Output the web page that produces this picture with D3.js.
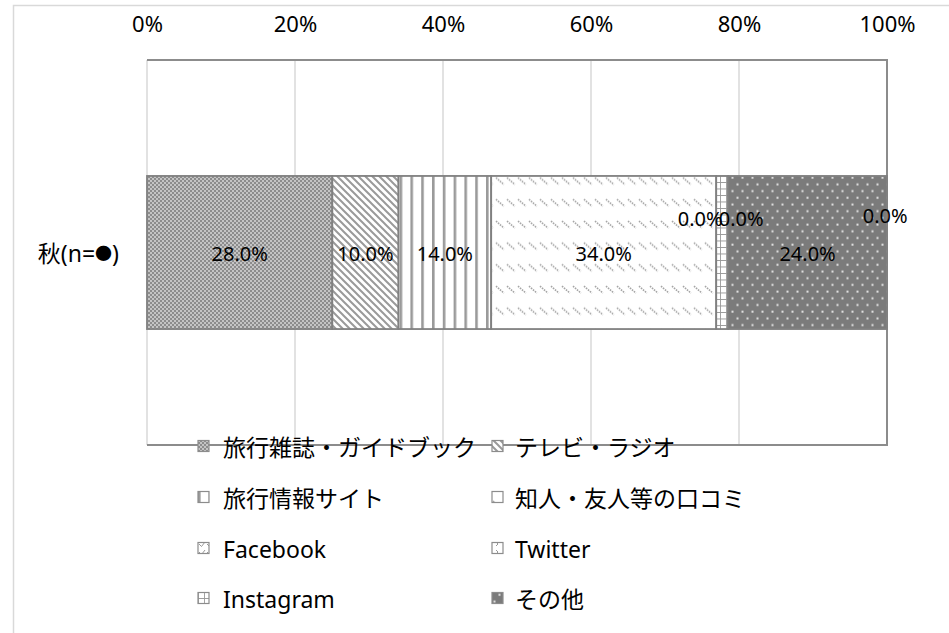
<!DOCTYPE html>
<html>
<head>
<meta charset="utf-8">
<script src="https://cdn.jsdelivr.net/npm/d3@7"></script>
<style>
  body { margin: 0; background: #fff; }
  text { font-family: "Noto Sans", "Noto Sans CJK JP", sans-serif; fill: #000; }
</style>
</head>
<body>
<svg id="svg"></svg>
<script>
// Chart data
const seasons = ["秋(n=●)"];
const sources = ["旅行雑誌・ガイドブック", "テレビ・ラジオ", "旅行情報サイト", "知人・友人等の口コミ",
    "Facebook", "Twitter", "Instagram", "その他"];
const shares = [28, 10, 14, 34, 0, 0, 1.8, 24];
const shownLabels = ["28.0%", "10.0%", "14.0%", "34.0%", "0.0%", "0.0%", "0.0%", "24.0%"];
const tickValues = [0, 0.2, 0.4, 0.6, 0.8, 1];

const width = 949;
const height = 633;
const margin = { top: 60, right: 63, bottom: 188, left: 147 };

let svg = d3.select("#svg").attr("width", width).attr("height", height);

// outer chart border
svg.append("rect")
    .attr("x", 13.5).attr("y", 5.5)
    .attr("width", 960).attr("height", 660)
    .attr("fill", "none").attr("stroke", "#d9d9d9").attr("stroke-width", 1.5);

// patterns, one per series
const defs = svg.append("defs");
function pattern(id, w, h, bg) {
    let p = defs.append("pattern").attr("id", id)
        .attr("patternUnits", "userSpaceOnUse")
        .attr("width", w).attr("height", h);
    p.append("rect").attr("width", w).attr("height", h).attr("fill", bg);
    return p;
}
let p0 = pattern("pat0", 4, 4, "#c4c4c4");
p0.append("rect").attr("width", 2).attr("height", 2).attr("fill", "#8c8c8c");
p0.append("rect").attr("x", 2).attr("y", 2).attr("width", 2).attr("height", 2).attr("fill", "#8c8c8c");

let p1 = pattern("pat1", 7, 7, "#fff");
p1.append("path").attr("d", "M-1,-1 L8,8 M-4.5,2.5 L2.5,9.5 M2.5,-4.5 L9.5,2.5")
    .attr("stroke", "#9a9a9a").attr("stroke-width", 2);

let p2 = pattern("pat2", 10.8, 10, "#fff");
p2.append("rect").attr("x", 0).attr("width", 2.6).attr("height", 10).attr("fill", "#9a9a9a");

let p3 = pattern("pat3", 11, 21.7, "#fff");
p3.append("path").attr("d", "M1,4 L9,11")
    .attr("stroke", "#a3a3a3").attr("stroke-width", 1.6).attr("stroke-dasharray", "1.6,1");

let p4 = pattern("pat4", 8, 8, "#fff");
p4.append("path").attr("d", "M1,4 L3.5,6.5 L7,2").attr("fill", "none")
    .attr("stroke", "#999").attr("stroke-width", 1);

let p5 = pattern("pat5", 8, 8, "#fff");
p5.append("path").attr("d", "M4,2 L6,4 L4,6").attr("fill", "none")
    .attr("stroke", "#999").attr("stroke-width", 1);

let p6 = pattern("pat6", 6, 6.5, "#fff");
p6.append("path").attr("d", "M0,0 H6 M0,0 V6.5").attr("stroke", "#999").attr("stroke-width", 1.8);

let p7 = pattern("pat7", 10, 13.4, "#7b7b7b");
p7.append("rect").attr("x", 1.5).attr("y", 2.5).attr("width", 2).attr("height", 2).attr("fill", "#e2e2e2");
p7.append("rect").attr("x", 6.5).attr("y", 9.2).attr("width", 2).attr("height", 2).attr("fill", "#e2e2e2");

// scales
const x = d3.scaleLinear().domain([0, 1]).range([margin.left, width - margin.right + 1]);
const y = d3.scaleBand().domain(seasons)
    .range([margin.top, height - margin.bottom])
    .paddingInner(0.431).paddingOuter(0.431);

// gridlines
svg.append("g").selectAll("line").data(tickValues).join("line")
    .attr("x1", d => x(d)).attr("x2", d => x(d))
    .attr("y1", margin.top).attr("y2", height - margin.bottom)
    .attr("stroke", "#d9d9d9").attr("stroke-width", 1.5);

// plot frame (top, right, bottom)
const fy0 = margin.top, fy1 = height - margin.bottom;
svg.append("path")
    .attr("d", `M${x(0)},${fy0} H${x(1)} V${fy1} H${x(0)}`)
    .attr("fill", "none").attr("stroke", "#8c8c8c").attr("stroke-width", 2);

// top axis
const axis = svg.append("g")
    .attr("transform", `translate(0,${margin.top - 25})`)
    .call(d3.axisTop(x).tickValues(tickValues).tickFormat(d3.format(".0%")).tickSize(0));
axis.select(".domain").remove();
axis.selectAll("text").style("font-size", "22px")
    .style("font-family", "'Noto Sans', sans-serif").attr("fill", "#000");

// category label (the dot glyph is drawn a bit smaller)
const catLabel = svg.append("text")
    .attr("x", 119).attr("y", y(seasons[0]) + y.bandwidth() / 2)
    .attr("text-anchor", "end").attr("dominant-baseline", "central")
    .style("font-size", "23px");
seasons[0].split(/(●)/).forEach(part => {
    if (!part) return;
    catLabel.append("tspan")
        .style("font-size", part === "●" ? "17px" : null)
        .text(part);
});

// stacked (normalised) bar
const row = {};
sources.forEach((s, i) => row[s] = shares[i]);
row.season = seasons[0];
const stacked = d3.stack().keys(sources).offset(d3.stackOffsetExpand)([row]);

svg.append("g").selectAll("rect").data(stacked).join("rect")
    .attr("x", d => x(d[0][0]))
    .attr("y", d => y(d[0].data.season))
    .attr("width", d => x(d[0][1]) - x(d[0][0]))
    .attr("height", y.bandwidth())
    .attr("fill", (d, i) => `url(#pat${i})`)
    .attr("stroke", "#808080").attr("stroke-width", 1.8);

// data labels; zero-size ones were moved off the bar
const labelNudge = [[0, 0], [0, 0], [0, 0], [0, 0], [-16, -35], [25, -35], [163, -38], [0, 0]];
svg.append("g").selectAll("text").data(stacked).join("text")
    .attr("x", (d, i) => (x(d[0][0]) + x(d[0][1])) / 2 + labelNudge[i][0])
    .attr("y", (d, i) => y(d[0].data.season) + y.bandwidth() / 2 + 1 + labelNudge[i][1])
    .attr("text-anchor", "middle").attr("dominant-baseline", "central")
    .style("font-size", "20px")
    .text((d, i) => shownLabels[i]);

// legend, two columns
const legendCols = [198, 492];
const legendRows = [446, 497, 548, 598];
const legend = svg.append("g").selectAll("g").data(sources).join("g")
    .attr("transform", (d, i) => `translate(${legendCols[i % 2]},${legendRows[Math.floor(i / 2)]})`);
legend.append("rect")
    .attr("x", 0).attr("y", -5.5).attr("width", 11).attr("height", 11)
    .attr("fill", (d, i) => `url(#pat${i})`)
    .attr("stroke", "#8c8c8c").attr("stroke-width", 1.2);
legend.append("text")
    .attr("x", (d, i) => i % 2 ? 23 : 25).attr("y", 1)
    .attr("dominant-baseline", "central")
    .style("font-size", "23px")
    .text(d => d);
</script>
</body>
</html>
